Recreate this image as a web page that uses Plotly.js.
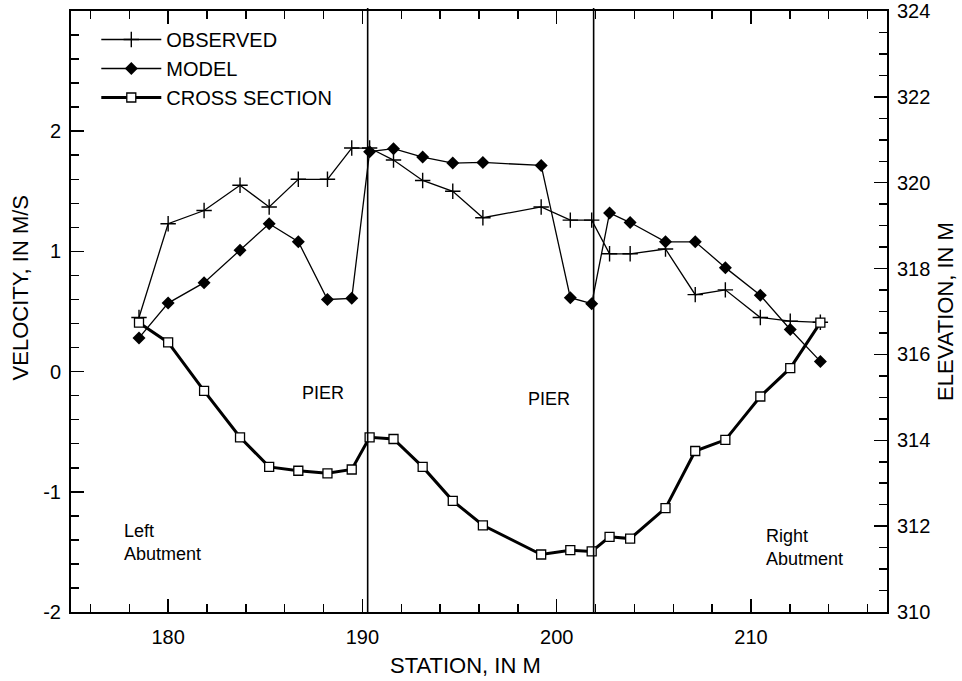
<!DOCTYPE html>
<html>
<head>
<meta charset="utf-8">
<script src="https://cdn.plot.ly/plotly-3.0.1.min.js"></script>
<style>html,body{margin:0;padding:0;background:#fff;}#chart{width:962px;height:681px;}</style>
</head>
<body>
<div id="chart"></div>
<script>
// Stations (m) shared by all three series
const stations = [178.5, 180.0, 181.85, 183.7, 185.2, 186.7, 188.2, 189.45, 190.37, 191.6, 193.1, 194.65, 196.2, 199.2, 200.7, 201.8, 202.72, 203.78, 205.6, 207.13, 208.68, 210.48, 212.02, 213.57];
// Observed velocity (m/s)
const observed = [0.45, 1.23, 1.34, 1.55, 1.37, 1.60, 1.60, 1.86, 1.86, 1.76, 1.59, 1.50, 1.28, 1.37, 1.26, 1.26, 0.98, 0.98, 1.02, 0.64, 0.68, 0.45, 0.42, 0.41];
// Model velocity (m/s)
const model = [0.28, 0.57, 0.74, 1.01, 1.23, 1.08, 0.60, 0.61, 1.83, 1.855, 1.785, 1.735, 1.74, 1.715, 0.615, 0.565, 1.32, 1.24, 1.08, 1.08, 0.865, 0.635, 0.35, 0.085];
// Cross section elevation (m)
const crossSection = [316.74, 316.28, 315.15, 314.07, 313.38, 313.29, 313.23, 313.32, 314.07, 314.03, 313.38, 312.59, 312.02, 311.34, 311.44, 311.41, 311.75, 311.71, 312.42, 313.75, 314.01, 315.02, 315.68, 316.74];
// Pier stations (vertical lines)
const piers = [190.27, 201.9];
// Tick labels
const xTicks = [180, 190, 200, 210];
const yTicks = [-2, -1, 0, 1, 2];
const y2Ticks = [310, 312, 314, 316, 318, 320, 322, 324];

const FONT = "Liberation Sans, Arial, Helvetica, sans-serif";

const traces = [
  {
    name: "OBSERVED", x: stations, y: observed, mode: "lines+markers",
    line: {color: "#000", width: 1.3},
    marker: {symbol: "cross-thin", size: 11, color: "#000", line: {color: "#000", width: 1.4}}
  },
  {
    name: "MODEL", x: stations, y: model, mode: "lines+markers",
    line: {color: "#000", width: 1.3},
    marker: {symbol: "diamond", size: 10, color: "#000"}
  },
  {
    name: "CROSS SECTION", x: stations, y: crossSection, yaxis: "y2", mode: "lines+markers",
    line: {color: "#000", width: 3},
    marker: {symbol: "square", size: 9, color: "#fff", line: {color: "#000", width: 1.3}}
  }
];

const axisCommon = {
  showgrid: false, zeroline: false, showline: true, linecolor: "#000", linewidth: 2,
  ticks: "inside", ticklen: 13, tickwidth: 1.5, tickcolor: "#000",
  tickfont: {family: FONT, size: 20, color: "#000"}
};

const layout = {
  width: 962, height: 681,
  margin: {l: 71, r: 75, t: 11, b: 69},
  paper_bgcolor: "#fff", plot_bgcolor: "#fff",
  font: {family: FONT, color: "#000"},
  showlegend: true,
  legend: {
    x: 0.031, y: 0.985, xanchor: "left", yanchor: "top",
    bgcolor: "rgba(0,0,0,0)", borderwidth: 0,
    font: {family: FONT, size: 20, color: "#000"},
    tracegroupgap: 0, itemwidth: 60
  },
  xaxis: Object.assign({}, axisCommon, {
    range: [175, 217], tickvals: xTicks, ticktext: xTicks.map(String),
    mirror: "ticks", ticklabelstandoff: 6,
    minor: {dtick: 2, tick0: 176, ticks: "inside", ticklen: 8, tickwidth: 1.5, tickcolor: "#000"}
  }),
  yaxis: Object.assign({}, axisCommon, {
    range: [-2, 3], tickvals: yTicks, ticktext: yTicks.map(String),
    ticklabelstandoff: 4,
    minor: {dtick: 0.2, tick0: 0, ticks: "inside", ticklen: 8, tickwidth: 1.5, tickcolor: "#000"}
  }),
  yaxis2: Object.assign({}, axisCommon, {
    overlaying: "y", side: "right",
    range: [310, 324], tickvals: y2Ticks, ticktext: y2Ticks.map(String),
    ticklabelstandoff: 4,
    title: {text: "ELEVATION, IN M", font: {family: FONT, size: 22, color: "#000"}, standoff: 8},
    minor: {dtick: 0.5, tick0: 310, ticks: "inside", ticklen: 8, tickwidth: 1.5, tickcolor: "#000"}
  }),
  shapes: piers.map(p => ({
    type: "line", xref: "x", yref: "paper", x0: p, x1: p, y0: 0, y1: 1.005,
    line: {color: "#000", width: 1.6}
  })),
  annotations: [
    {xref: "paper", yref: "paper", x: (465 - 71) / 816, y: -(665 - 612) / 601, xanchor: "center", yanchor: "middle",
     text: "STATION, IN M", showarrow: false, font: {family: FONT, size: 22, color: "#000"}},
    {xref: "paper", yref: "paper", x: -0.062, y: (612 - 288) / 601, xanchor: "center", yanchor: "middle",
     textangle: -90, text: "VELOCITY, IN M/S", showarrow: false, font: {family: FONT, size: 22, color: "#000"}},
    {xref: "x", yref: "y", x: 187.95, y: -0.175, text: "PIER", showarrow: false,
     font: {family: FONT, size: 18, color: "#000"}},
    {xref: "x", yref: "y", x: 199.59, y: -0.23, text: "PIER", showarrow: false,
     font: {family: FONT, size: 18, color: "#000"}},
    {xref: "x", yref: "y", x: 177.6, y: -1.42, xanchor: "left", align: "left", text: "Left<br>Abutment", showarrow: false,
     font: {family: FONT, size: 18, color: "#000"}},
    {xref: "x", yref: "y", x: 210.69, y: -1.466, xanchor: "left", align: "left", text: "Right<br>Abutment", showarrow: false,
     font: {family: FONT, size: 18, color: "#000"}}
  ]
};

Plotly.newPlot("chart", traces, layout, {displayModeBar: false, staticPlot: true});
</script>
</body>
</html>
